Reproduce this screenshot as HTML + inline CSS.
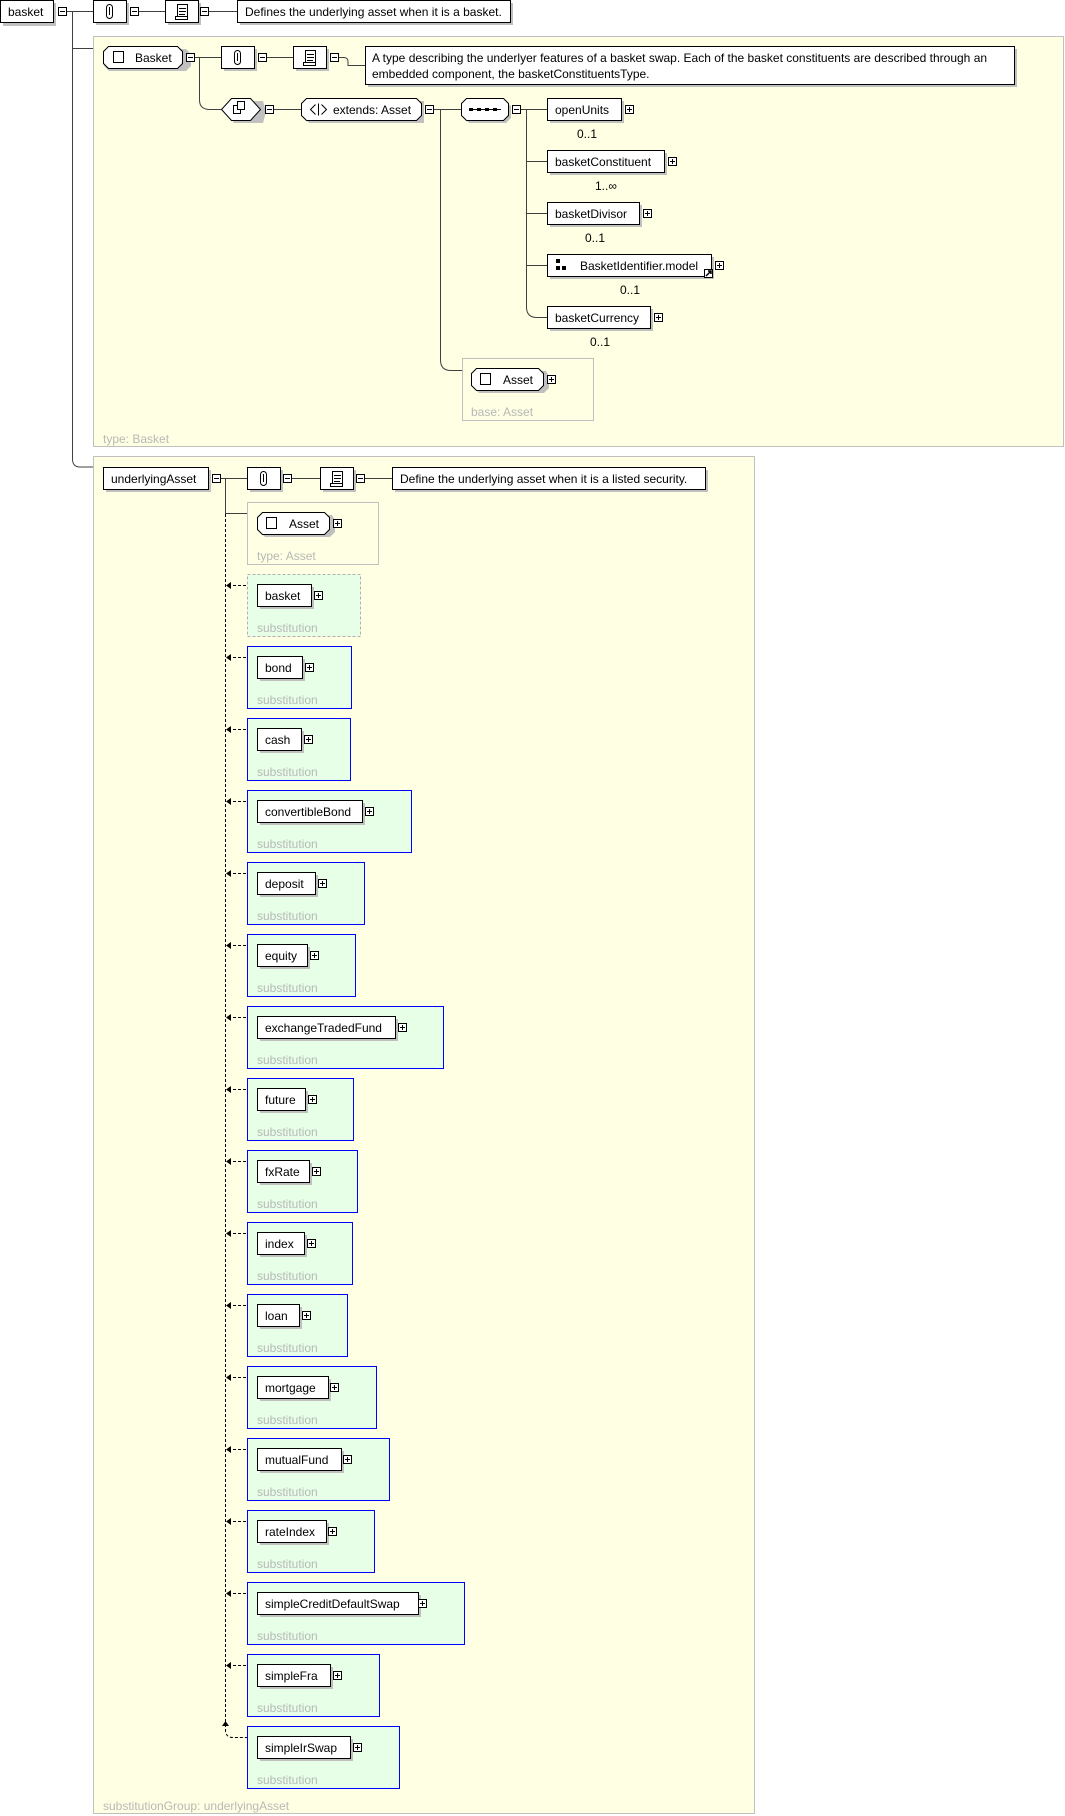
<!DOCTYPE html>
<html><head><meta charset="utf-8"><style>
html,body{margin:0;padding:0;background:#fff;width:1065px;height:1816px;overflow:hidden}
svg{display:block}
text{font-family:"Liberation Sans",Arial,sans-serif;font-size:12px;fill:#000}
.g{fill:#b8b8b8}
.ln{stroke:#404040;stroke-width:1;fill:none}
.dl{stroke:#000;stroke-width:1;fill:none;stroke-dasharray:3,2}
.sh{fill:#c0c0c0}
.bx{fill:#fff;stroke:#000;stroke-width:1}
</style></head><body>
<svg width="1065" height="1816" viewBox="0 0 1065 1816" xmlns="http://www.w3.org/2000/svg">
<defs>
<g id="mi"><rect x="0.5" y="0.5" width="8" height="8" fill="#fff" stroke="#000"/><line x1="2" y1="4.5" x2="7" y2="4.5" stroke="#000"/></g>
<g id="pl"><rect x="0.5" y="0.5" width="8" height="8" fill="#fff" stroke="#000"/><line x1="2" y1="4.5" x2="7" y2="4.5" stroke="#000"/><line x1="4.5" y1="2" x2="4.5" y2="7" stroke="#000"/></g>
<g id="ann"><rect x="3" y="3" width="33" height="22" class="sh"/><rect x="0.5" y="0.5" width="33" height="22" class="bx"/><rect x="13.5" y="4.5" width="6" height="14" rx="3" fill="none" stroke="#000"/><line x1="16.5" y1="7" x2="16.5" y2="15" stroke="#000"/></g>
<g id="doc"><rect x="3" y="3" width="33" height="22" class="sh"/><rect x="0.5" y="0.5" width="33" height="22" class="bx"/><path d="M12.5 4.5h10v12h-10zM10.5 16.5h12v3h-12z" fill="#fff" stroke="#000"/><line x1="14" y1="8.5" x2="21" y2="8.5" stroke="#000"/><line x1="14" y1="11.5" x2="21" y2="11.5" stroke="#000"/><line x1="14" y1="14.5" x2="20" y2="14.5" stroke="#000"/></g>
</defs>

<!-- yellow panels -->
<rect x="93.5" y="36.5" width="970" height="410" fill="#ffffe3" stroke="#c0c0c0"/>
<rect x="93.5" y="456.5" width="661" height="1357" fill="#ffffe3" stroke="#c0c0c0"/>
<text x="103" y="443" class="g">type: Basket</text>
<text x="103" y="1810" class="g">substitutionGroup: underlyingAsset</text>

<!-- top row -->
<rect x="3" y="3" width="53" height="23" class="sh"/><rect x="0.5" y="0.5" width="53" height="22" class="bx"/>
<text x="8" y="16">basket</text>
<use href="#mi" x="58" y="7"/>
<path class="ln" d="M67 11.5H93M139 11.5H165M209 11.5H237"/>
<use href="#ann" x="93" y="0"/><use href="#mi" x="130" y="7"/>
<use href="#doc" x="165" y="0"/><use href="#mi" x="200" y="7"/>
<rect x="240" y="3" width="273" height="22" class="sh"/><rect x="237.5" y="0.5" width="273" height="22" class="bx"/>
<text x="245" y="16">Defines the underlying asset when it is a basket.</text>
<path class="ln" d="M72.5 11.5V459Q72.5 467 80 467H93M72.5 48.5H93"/>

<!-- Basket -->
<polygon points="106,49 183,49 188,54 188,66 183,71 106,71 101,66 101,54" transform="translate(3,0)" class="sh"/>
<polygon points="108.5,46.5 177.5,46.5 182.5,51.5 182.5,63.5 177.5,68.5 108.5,68.5 103.5,63.5 103.5,51.5" class="bx"/>
<rect x="113.5" y="51.5" width="10" height="11" fill="#fff" stroke="#000"/>
<text x="135" y="62">Basket</text>
<use href="#mi" x="186" y="53"/>
<path class="ln" d="M195 57.5H221M267 57.5H293M339 57.5H344Q348 57.5 348 62V65.5H365"/>
<use href="#ann" x="221" y="46"/><use href="#mi" x="258" y="53"/>
<use href="#doc" x="293" y="46"/><use href="#mi" x="330" y="53"/>
<rect x="368" y="49" width="649" height="38" class="sh"/><rect x="365.5" y="46.5" width="649" height="38" class="bx"/>
<text x="372" y="62">A type describing the underlyer features of a basket swap. Each of the basket constituents are described through an</text>
<text x="372" y="78">embedded component, the basketConstituentsType.</text>

<path class="ln" d="M199.5 57.5V100Q199.5 109.5 210 109.5H221"/>
<!-- choice -->
<polygon points="234,101 263,101 266,112 263,123 234,123 227,112" class="sh"/>
<polygon points="231.5,98.5 250.5,98.5 260.5,109.5 250.5,120.5 231.5,120.5 221.5,109.5" class="bx"/>
<rect x="233.5" y="105.5" width="7" height="8" fill="#fff" stroke="#000"/><rect x="237.5" y="101.5" width="7" height="8" fill="#fff" stroke="#000"/>
<use href="#mi" x="265" y="105"/>
<path class="ln" d="M274 109.5H301M434 109.5H461M521 109.5H547"/>
<!-- extends -->
<polygon points="309,101 424,101 424,123 309,123 304,118 304,106" class="sh"/>
<polygon points="306.5,98.5 416.5,98.5 421.5,103.5 421.5,115.5 416.5,120.5 306.5,120.5 301.5,115.5 301.5,103.5" class="bx"/>
<path d="M315.5 104.5L310.5 109.5L315.5 114.5M318.5 103.5V115.5M321.5 104.5L326.5 109.5L321.5 114.5" fill="none" stroke="#000"/>
<text x="333" y="114">extends: Asset</text>
<use href="#mi" x="425" y="105"/>
<!-- sequence -->
<polygon points="469,101 506,101 511,106 511,118 506,123 469,123 464,118 464,106" class="sh"/>
<polygon points="466.5,98.5 503.5,98.5 508.5,103.5 508.5,115.5 503.5,120.5 466.5,120.5 461.5,115.5 461.5,103.5" class="bx"/>
<line x1="469" y1="109.5" x2="501" y2="109.5" stroke="#000"/>
<rect x="469" y="108" width="4" height="3"/><rect x="477" y="108" width="4" height="3"/><rect x="485" y="108" width="4" height="3"/><rect x="493" y="108" width="4" height="3"/>
<use href="#mi" x="512" y="105"/>
<path class="ln" d="M526.5 109.5V307Q526.5 317.5 537 317.5H547M526.5 161.5H547M526.5 213.5H547M526.5 265.5H547"/>
<path class="ln" d="M440.5 109.5V360Q440.5 370.5 451 370.5H462"/>

<!-- children -->
<rect x="550" y="101" width="74" height="22" class="sh"/><rect x="547.5" y="98.5" width="74" height="22" class="bx"/><text x="555" y="114">openUnits</text><use href="#pl" x="625" y="105"/><text x="577" y="138">0..1</text>
<rect x="550" y="153" width="117" height="22" class="sh"/><rect x="547.5" y="150.5" width="117" height="22" class="bx"/><text x="555" y="166">basketConstituent</text><use href="#pl" x="668" y="157"/><text x="595" y="190">1..∞</text>
<rect x="550" y="205" width="92" height="22" class="sh"/><rect x="547.5" y="202.5" width="92" height="22" class="bx"/><text x="555" y="218">basketDivisor</text><use href="#pl" x="643" y="209"/><text x="585" y="242">0..1</text>
<rect x="550" y="257" width="164" height="22" class="sh"/><rect x="547.5" y="254.5" width="164" height="22" class="bx"/>
<rect x="556" y="259" width="4" height="4"/><rect x="556" y="266" width="4" height="4"/><rect x="562" y="266" width="4" height="4"/>
<text x="580" y="270">BasketIdentifier.model</text><use href="#pl" x="715" y="261"/>
<rect x="704.5" y="269.5" width="8" height="8" fill="#fff" stroke="#000"/><path d="M706 276L711 271M708 271H711V274" stroke="#000" fill="none" stroke-width="1.5"/>
<text x="620" y="294">0..1</text>
<rect x="550" y="309" width="103" height="22" class="sh"/><rect x="547.5" y="306.5" width="103" height="22" class="bx"/><text x="555" y="322">basketCurrency</text><use href="#pl" x="654" y="313"/><text x="590" y="346">0..1</text>

<!-- base Asset -->
<rect x="462.5" y="358.5" width="131" height="62" fill="#ffffe3" stroke="#c0c0c0"/>
<polygon points="479,371 546,371 549,376 549,388 544,393 479,393 474,388 474,376" class="sh"/>
<polygon points="476.5,368.5 538.5,368.5 543.5,373.5 543.5,385.5 538.5,390.5 476.5,390.5 471.5,385.5 471.5,373.5" class="bx"/>
<rect x="480.5" y="373.5" width="10" height="11" fill="#fff" stroke="#000"/>
<text x="503" y="384">Asset</text><use href="#pl" x="547" y="375"/>
<text x="471" y="416" class="g">base: Asset</text>

<!-- underlyingAsset -->
<rect x="106" y="470" width="105" height="22" class="sh"/><rect x="103.5" y="467.5" width="105" height="22" class="bx"/>
<text x="111" y="483">underlyingAsset</text><use href="#mi" x="212" y="474"/>
<path class="ln" d="M221 478.5H247M292 478.5H320M365 478.5H392"/>
<use href="#ann" x="247" y="467"/><use href="#mi" x="283" y="474"/>
<use href="#doc" x="320" y="467"/><use href="#mi" x="356" y="474"/>
<rect x="395" y="470" width="313" height="22" class="sh"/><rect x="392.5" y="467.5" width="313" height="22" class="bx"/>
<text x="400" y="483">Define the underlying asset when it is a listed security.</text>
<path class="ln" d="M225.5 478.5V513.5H247"/>
<rect x="247.5" y="502.5" width="131" height="62" fill="#ffffe3" stroke="#c0c0c0"/>
<polygon points="265,515 332,515 335,520 335,532 330,537 265,537 260,532 260,520" class="sh"/>
<polygon points="262.5,512.5 324.5,512.5 329.5,517.5 329.5,529.5 324.5,534.5 262.5,534.5 257.5,529.5 257.5,517.5" class="bx"/>
<rect x="266.5" y="517.5" width="10" height="11" fill="#fff" stroke="#000"/>
<text x="289" y="528">Asset</text><use href="#pl" x="333" y="519"/>
<text x="257" y="560" class="g">type: Asset</text>

<path class="dl" d="M225.5 514V1722"/>

<!-- substitutions: top = 574 + 72i -->
<g id="subs">
<rect x="247.5" y="574.5" width="113" height="62" fill="#e6ffe6" stroke="#b0b0b0" stroke-dasharray="3,2"/>
<rect x="260" y="587" width="54" height="22" class="sh"/><rect x="257.5" y="584.5" width="54" height="22" class="bx"/><text x="265" y="600">basket</text><use href="#pl" x="314" y="591"/><text x="257" y="632" class="g">substitution</text>
<path class="dl" d="M228 585.5H247"/><path d="M226 585.5L231 582V589Z"/>
</g>
<g font-size="12">
<!-- bond -->
<rect x="247.5" y="646.5" width="104" height="62" fill="#e6ffe6" stroke="#0000ff"/>
<rect x="260" y="659" width="45" height="22" class="sh"/><rect x="257.5" y="656.5" width="45" height="22" class="bx"/><text x="265" y="672">bond</text><use href="#pl" x="305" y="663"/><text x="257" y="704" class="g">substitution</text>
<path class="dl" d="M228 657.5H247"/><path d="M226 657.5L231 654V661Z"/>
<!-- cash -->
<rect x="247.5" y="718.5" width="103" height="62" fill="#e6ffe6" stroke="#0000ff"/>
<rect x="260" y="731" width="44" height="22" class="sh"/><rect x="257.5" y="728.5" width="44" height="22" class="bx"/><text x="265" y="744">cash</text><use href="#pl" x="304" y="735"/><text x="257" y="776" class="g">substitution</text>
<path class="dl" d="M228 729.5H247"/><path d="M226 729.5L231 726V733Z"/>
<!-- convertibleBond -->
<rect x="247.5" y="790.5" width="164" height="62" fill="#e6ffe6" stroke="#0000ff"/>
<rect x="260" y="803" width="105" height="22" class="sh"/><rect x="257.5" y="800.5" width="105" height="22" class="bx"/><text x="265" y="816">convertibleBond</text><use href="#pl" x="365" y="807"/><text x="257" y="848" class="g">substitution</text>
<path class="dl" d="M228 801.5H247"/><path d="M226 801.5L231 798V805Z"/>
<!-- deposit -->
<rect x="247.5" y="862.5" width="117" height="62" fill="#e6ffe6" stroke="#0000ff"/>
<rect x="260" y="875" width="58" height="22" class="sh"/><rect x="257.5" y="872.5" width="58" height="22" class="bx"/><text x="265" y="888">deposit</text><use href="#pl" x="318" y="879"/><text x="257" y="920" class="g">substitution</text>
<path class="dl" d="M228 873.5H247"/><path d="M226 873.5L231 870V877Z"/>
<!-- equity -->
<rect x="247.5" y="934.5" width="108" height="62" fill="#e6ffe6" stroke="#0000ff"/>
<rect x="260" y="947" width="50" height="22" class="sh"/><rect x="257.5" y="944.5" width="50" height="22" class="bx"/><text x="265" y="960">equity</text><use href="#pl" x="310" y="951"/><text x="257" y="992" class="g">substitution</text>
<path class="dl" d="M228 945.5H247"/><path d="M226 945.5L231 942V949Z"/>
<!-- exchangeTradedFund -->
<rect x="247.5" y="1006.5" width="196" height="62" fill="#e6ffe6" stroke="#0000ff"/>
<rect x="260" y="1019" width="138" height="22" class="sh"/><rect x="257.5" y="1016.5" width="138" height="22" class="bx"/><text x="265" y="1032">exchangeTradedFund</text><use href="#pl" x="398" y="1023"/><text x="257" y="1064" class="g">substitution</text>
<path class="dl" d="M228 1017.5H247"/><path d="M226 1017.5L231 1014V1021Z"/>
<!-- future -->
<rect x="247.5" y="1078.5" width="106" height="62" fill="#e6ffe6" stroke="#0000ff"/>
<rect x="260" y="1091" width="48" height="22" class="sh"/><rect x="257.5" y="1088.5" width="48" height="22" class="bx"/><text x="265" y="1104">future</text><use href="#pl" x="308" y="1095"/><text x="257" y="1136" class="g">substitution</text>
<path class="dl" d="M228 1089.5H247"/><path d="M226 1089.5L231 1086V1093Z"/>
<!-- fxRate -->
<rect x="247.5" y="1150.5" width="110" height="62" fill="#e6ffe6" stroke="#0000ff"/>
<rect x="260" y="1163" width="52" height="22" class="sh"/><rect x="257.5" y="1160.5" width="52" height="22" class="bx"/><text x="265" y="1176">fxRate</text><use href="#pl" x="312" y="1167"/><text x="257" y="1208" class="g">substitution</text>
<path class="dl" d="M228 1161.5H247"/><path d="M226 1161.5L231 1158V1165Z"/>
<!-- index -->
<rect x="247.5" y="1222.5" width="105" height="62" fill="#e6ffe6" stroke="#0000ff"/>
<rect x="260" y="1235" width="47" height="22" class="sh"/><rect x="257.5" y="1232.5" width="47" height="22" class="bx"/><text x="265" y="1248">index</text><use href="#pl" x="307" y="1239"/><text x="257" y="1280" class="g">substitution</text>
<path class="dl" d="M228 1233.5H247"/><path d="M226 1233.5L231 1230V1237Z"/>
<!-- loan -->
<rect x="247.5" y="1294.5" width="100" height="62" fill="#e6ffe6" stroke="#0000ff"/>
<rect x="260" y="1307" width="42" height="22" class="sh"/><rect x="257.5" y="1304.5" width="42" height="22" class="bx"/><text x="265" y="1320">loan</text><use href="#pl" x="302" y="1311"/><text x="257" y="1352" class="g">substitution</text>
<path class="dl" d="M228 1305.5H247"/><path d="M226 1305.5L231 1302V1309Z"/>
<!-- mortgage -->
<rect x="247.5" y="1366.5" width="129" height="62" fill="#e6ffe6" stroke="#0000ff"/>
<rect x="260" y="1379" width="71" height="22" class="sh"/><rect x="257.5" y="1376.5" width="71" height="22" class="bx"/><text x="265" y="1392">mortgage</text><use href="#pl" x="330" y="1383"/><text x="257" y="1424" class="g">substitution</text>
<path class="dl" d="M228 1377.5H247"/><path d="M226 1377.5L231 1374V1381Z"/>
<!-- mutualFund -->
<rect x="247.5" y="1438.5" width="142" height="62" fill="#e6ffe6" stroke="#0000ff"/>
<rect x="260" y="1451" width="84" height="22" class="sh"/><rect x="257.5" y="1448.5" width="84" height="22" class="bx"/><text x="265" y="1464">mutualFund</text><use href="#pl" x="343" y="1455"/><text x="257" y="1496" class="g">substitution</text>
<path class="dl" d="M228 1449.5H247"/><path d="M226 1449.5L231 1446V1453Z"/>
<!-- rateIndex -->
<rect x="247.5" y="1510.5" width="127" height="62" fill="#e6ffe6" stroke="#0000ff"/>
<rect x="260" y="1523" width="69" height="22" class="sh"/><rect x="257.5" y="1520.5" width="69" height="22" class="bx"/><text x="265" y="1536">rateIndex</text><use href="#pl" x="328" y="1527"/><text x="257" y="1568" class="g">substitution</text>
<path class="dl" d="M228 1521.5H247"/><path d="M226 1521.5L231 1518V1525Z"/>
<!-- simpleCreditDefaultSwap -->
<rect x="247.5" y="1582.5" width="217" height="62" fill="#e6ffe6" stroke="#0000ff"/>
<rect x="260" y="1595" width="161" height="22" class="sh"/><rect x="257.5" y="1592.5" width="161" height="22" class="bx"/><text x="265" y="1608">simpleCreditDefaultSwap</text><use href="#pl" x="418" y="1599"/><text x="257" y="1640" class="g">substitution</text>
<path class="dl" d="M228 1593.5H247"/><path d="M226 1593.5L231 1590V1597Z"/>
<!-- simpleFra -->
<rect x="247.5" y="1654.5" width="132" height="62" fill="#e6ffe6" stroke="#0000ff"/>
<rect x="260" y="1667" width="73" height="22" class="sh"/><rect x="257.5" y="1664.5" width="73" height="22" class="bx"/><text x="265" y="1680">simpleFra</text><use href="#pl" x="333" y="1671"/><text x="257" y="1712" class="g">substitution</text>
<path class="dl" d="M228 1665.5H247"/><path d="M226 1665.5L231 1662V1669Z"/>
<!-- simpleIrSwap -->
<rect x="247.5" y="1726.5" width="152" height="62" fill="#e6ffe6" stroke="#0000ff"/>
<rect x="260" y="1739" width="93" height="22" class="sh"/><rect x="257.5" y="1736.5" width="93" height="22" class="bx"/><text x="265" y="1752">simpleIrSwap</text><use href="#pl" x="353" y="1743"/><text x="257" y="1784" class="g">substitution</text>
<path class="dl" d="M225.5 1724V1730Q225.5 1737.5 233 1737.5H247"/><path d="M225.5 1721L222 1726H229Z"/>
</g>
</svg>
</body></html>
